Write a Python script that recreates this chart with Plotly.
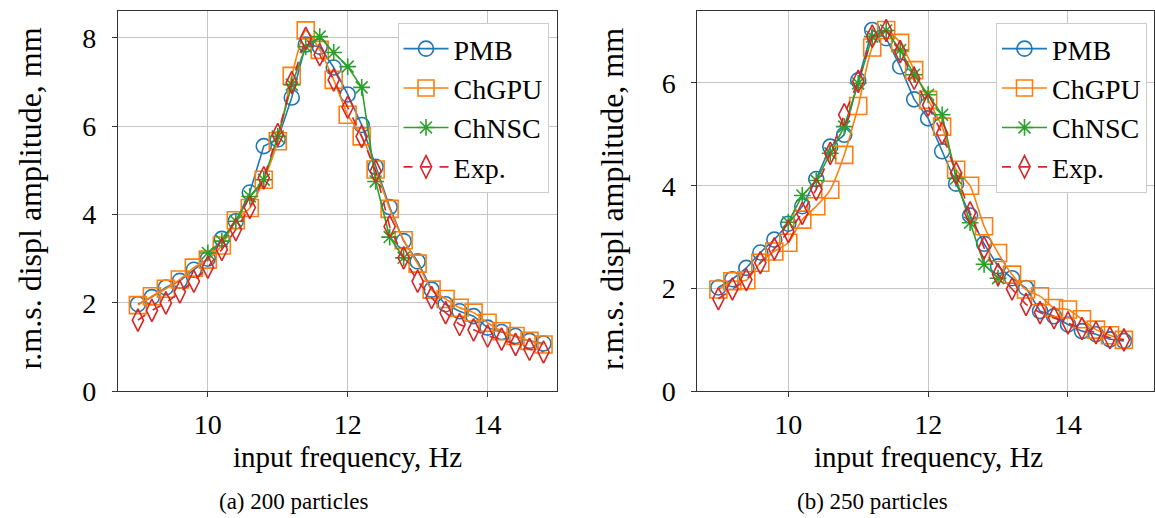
import plotly.graph_objects as go

# ---------------- data ----------------
freq = [9.0, 9.2, 9.4, 9.6, 9.8, 10.0, 10.2, 10.4, 10.6, 10.8, 11.0, 11.2, 11.4, 11.6, 11.8,
        12.0, 12.2, 12.4, 12.6, 12.8, 13.0, 13.2, 13.4, 13.6, 13.8, 14.0, 14.2, 14.4, 14.6, 14.8]

# (a) 200 particles
pmb_a = [1.97, 2.13, 2.35, 2.50, 2.75, 3.00, 3.45, 3.85, 4.50, 5.55, 5.70, 6.65, 7.85, 7.80, 7.33,
         6.72, 6.03, 5.08, 4.17, 3.40, 2.94, 2.30, 1.97, 1.81, 1.70, 1.44, 1.34, 1.25, 1.14, 1.08]
chgpu_a = [1.95, 2.15, 2.32, 2.53, 2.80, 2.98, 3.30, 3.87, 4.15, 4.79, 5.66, 7.14, 8.17, 7.73, 7.05,
           6.26, 5.77, 5.02, 4.13, 3.42, 2.89, 2.30, 2.09, 1.89, 1.78, 1.55, 1.36, 1.25, 1.14, 1.06]
freq_nsc_a = [10.0, 10.2, 10.4, 10.6, 10.8, 11.0, 11.2, 11.4, 11.6, 11.8, 12.0, 12.2, 12.4, 12.6, 12.8]
chnsc_a = [3.13, 3.40, 3.85, 4.41, 4.79, 5.77, 6.94, 7.80, 8.03, 7.67, 7.35, 6.88, 4.75, 3.49, 3.02]
exp_a = [1.61, 1.83, 2.00, 2.25, 2.49, 2.81, 3.21, 3.66, 4.16, 4.83, 5.81, 6.99, 7.99, 7.62, 7.05,
         6.43, 5.77, 4.98, 3.73, 3.02, 2.49, 2.12, 1.78, 1.51, 1.39, 1.25, 1.18, 1.06, 0.95, 0.89]

# (b) 250 particles
pmb_b = [2.02, 2.18, 2.40, 2.70, 2.95, 3.26, 3.60, 4.13, 4.76, 4.99, 6.05, 7.03, 6.87, 6.32, 5.68,
         5.31, 4.67, 4.04, 3.42, 2.87, 2.43, 2.20, 2.01, 1.56, 1.46, 1.30, 1.17, 1.11, 1.01, 0.98]
chgpu_b = [1.98, 2.14, 2.16, 2.50, 2.72, 2.89, 3.34, 3.60, 3.92, 4.60, 5.55, 6.69, 7.03, 6.78, 6.25,
           5.67, 5.15, 4.31, 4.00, 3.21, 2.69, 2.27, 1.98, 1.85, 1.62, 1.59, 1.40, 1.20, 1.09, 1.00]
freq_nsc_b = [10.0, 10.2, 10.4, 10.6, 10.8, 11.0, 11.2, 11.4, 11.6, 11.8, 12.0, 12.2, 12.4, 12.6, 12.8, 13.0]
chnsc_b = [3.29, 3.81, 4.10, 4.63, 5.15, 5.99, 6.90, 7.02, 6.64, 6.16, 5.77, 5.38, 4.14, 3.28, 2.47, 2.20]
exp_b = [1.80, 1.99, 2.17, 2.50, 2.77, 3.11, 3.46, 3.93, 4.63, 5.38, 6.03, 6.91, 7.02, 6.61, 6.09,
         5.57, 5.02, 4.24, 3.47, 2.79, 2.27, 1.99, 1.69, 1.53, 1.43, 1.33, 1.22, 1.14, 1.04, 1.00]

series_names = ["PMB", "ChGPU", "ChNSC", "Exp."]
x_ticks = [10, 12, 14]
y_ticks_a = [0, 2, 4, 6, 8]
y_ticks_b = [0, 2, 4, 6]
x_title = "input frequency, Hz"
y_title = "r.m.s. displ amplitude, mm"
captions = ["(a) 200 particles", "(b) 250 particles"]

# ---------------- style ----------------
FONT = "Liberation Serif, Times New Roman, serif"
W, H = 1155, 533          # rendered page is fitted to the 1155x518 photo
REF_H = 518
colors = ["#1f77b4", "#ff7f0e", "#2ca02c", "#d62728"]
symbols = ["circle-open", "square-open", "asterisk-open", "diamond-tall-open"]
sizes = [15, 17, 14, 16]
TICK_FS, XTITLE_FS, YTITLE_FS, LEG_FS, CAP_FS = 28, 29, 32, 28, 23

fig = go.Figure()

panels = [
    dict(xa="x", ya="y", legend="legend",
         data=[(freq, pmb_a), (freq, chgpu_a), (freq_nsc_a, chnsc_a), (freq, exp_a)]),
    dict(xa="x2", ya="y2", legend="legend2",
         data=[(freq, pmb_b), (freq, chgpu_b), (freq_nsc_b, chnsc_b), (freq, exp_b)]),
]

for p in panels:
    for i, (xs, ys) in enumerate(p["data"]):
        fig.add_trace(go.Scatter(
            x=xs, y=ys, name=series_names[i], xaxis=p["xa"], yaxis=p["ya"],
            legend=p["legend"], mode="lines+markers",
            line=dict(color=colors[i], width=1.6,
                      dash="dash" if i == 3 else "solid",
                      shape="spline" if i == 1 else "linear", smoothing=0.6),
            marker=dict(symbol=symbols[i], size=sizes[i], color=colors[i],
                        line=dict(width=1.6, color=colors[i])),
        ))

def px_x(px):
    return px / W

def px_y(py):
    return 1 - py / REF_H

top, bottom = 11, 392
axis_common = dict(showline=True, linecolor="#333333", linewidth=1, mirror=True,
                   showgrid=True, gridcolor="#c4c4c4", gridwidth=1, zeroline=False,
                   ticks="outside", ticklen=5, tickcolor="#333333",
                   tickfont=dict(family=FONT, size=TICK_FS, color="black"))

leg_common = dict(xanchor="right", yanchor="top", bgcolor="white", bordercolor="#cccccc",
                  borderwidth=1, font=dict(family=FONT, size=LEG_FS, color="black"),
                  itemwidth=45, tracegroupgap=0)

fig.update_layout(
    width=W, height=H, margin=dict(l=0, r=0, t=0, b=0),
    paper_bgcolor="white", plot_bgcolor="white",
    font=dict(family=FONT, size=TICK_FS, color="black"),
    xaxis=dict(domain=[px_x(118), px_x(557)], range=[8.714, 14.986], tickvals=x_ticks,
               anchor="y", ticklabelstandoff=3, **axis_common),
    yaxis=dict(domain=[px_y(bottom), px_y(top)], range=[0, 8.61], tickvals=y_ticks_a,
               anchor="x", ticklabelstandoff=10, **axis_common),
    xaxis2=dict(domain=[px_x(698), 1.0], range=[8.7, 15.23], tickvals=x_ticks,
                anchor="y2", ticklabelstandoff=3, **axis_common),
    yaxis2=dict(domain=[px_y(bottom), px_y(top)], range=[0, 7.40], tickvals=y_ticks_b,
                anchor="x2", ticklabelstandoff=10, **axis_common),
    legend=dict(x=px_x(549), y=px_y(23), **leg_common),
    legend2=dict(x=px_x(1148), y=px_y(23), **leg_common),
    showlegend=True,
)

annots = [
    (px_x(348), px_y(458), x_title, 0, XTITLE_FS),
    (px_x(929), px_y(458), x_title, 0, XTITLE_FS),
    (px_x(30), px_y(199), y_title, -90, YTITLE_FS),
    (px_x(612), px_y(199), y_title, -90, YTITLE_FS),
    (px_x(294), px_y(502), captions[0], 0, CAP_FS),
    (px_x(873), px_y(502), captions[1], 0, CAP_FS),
]
for ax_, ay_, txt, ang, fs in annots:
    fig.add_annotation(x=ax_, y=ay_, xref="paper", yref="paper", text=txt, showarrow=False,
                       textangle=ang, xanchor="center", yanchor="middle",
                       font=dict(family=FONT, size=fs, color="black"))

fig.write_html(
    "out.html",
    config={"displayModeBar": False},
    post_script=(
        "document.documentElement.style.margin='0';"
        "document.documentElement.style.overflow='hidden';"
        "document.body.style.margin='0';"
        "document.body.style.overflow='hidden';"
    ),
)
